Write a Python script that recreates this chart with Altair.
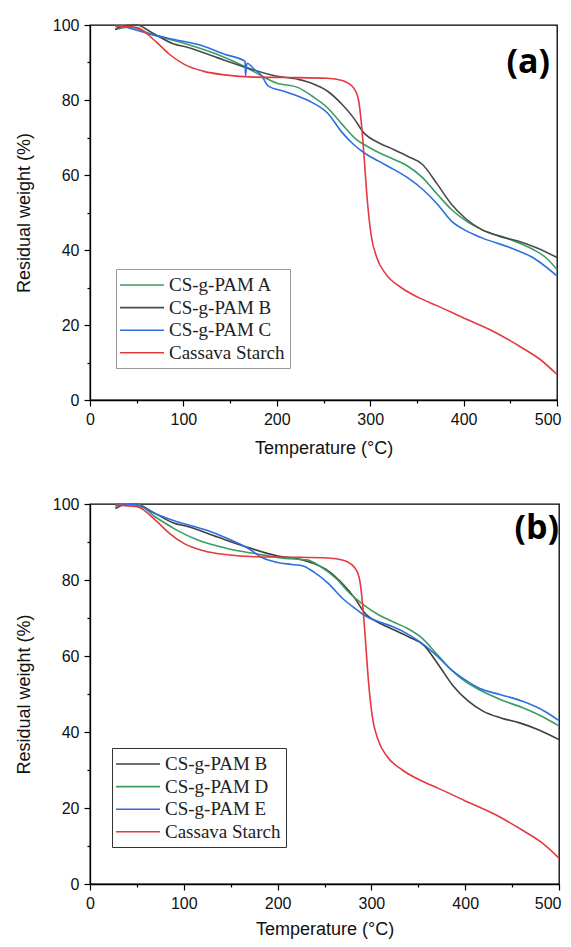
import altair as alt
import pandas as pd

# ---------------- data ----------------
# Cassava Starch (same in both panels)
CS_T = [27, 50, 70, 85, 101, 121, 144, 176, 215, 254, 270, 282, 287, 291, 293, 297, 301, 307, 317, 333, 352, 372, 399, 431, 462, 482, 500]
CS_W = [99.7, 99.3, 95.7, 92.2, 89.5, 87.7, 86.7, 86.1, 86.0, 85.8, 85.2, 83.3, 80.6, 72.6, 66.4, 53.0, 44.0, 38.0, 33.5, 30.0, 27.3, 25.1, 22.0, 18.4, 14.0, 10.8, 6.8]

# CS-g-PAM B (same in both panels)
B_T = [27, 35, 50, 66, 89, 105, 136, 168, 199, 223, 238, 254, 270, 282, 293, 309, 325, 340, 356, 372, 387, 403, 419, 438, 458, 478, 500]
B_W = [98.8, 99.7, 100.0, 98.0, 95.0, 94.0, 91.3, 88.6, 86.4, 85.5, 84.4, 82.4, 78.8, 75.3, 71.3, 68.6, 66.8, 65.0, 62.8, 57.5, 52.2, 48.2, 45.5, 43.7, 42.4, 40.6, 38.0]

# CS-g-PAM A
A_T = [27, 42, 66, 105, 136, 168, 184, 199, 223, 238, 254, 270, 285, 293, 309, 325, 340, 356, 372, 387, 403, 419, 450, 474, 488, 500]
A_W = [98.8, 99.5, 97.5, 94.8, 92.2, 88.6, 86.4, 84.6, 83.3, 81.0, 78.0, 73.5, 69.5, 68.2, 66.0, 64.2, 62.4, 59.3, 54.8, 50.8, 47.7, 45.5, 42.8, 40.2, 38.0, 34.8]

# CS-g-PAM C
C_T = [31, 66, 89, 121, 144, 164, 166, 166.5, 168, 176, 184, 191, 207, 223, 238, 254, 270, 282, 293, 309, 325, 340, 356, 372, 387, 403, 419, 450, 474, 500]
C_W = [100.0, 97.5, 96.2, 94.4, 92.2, 90.6, 90.3, 86.5, 89.8, 88.2, 86.4, 83.7, 82.4, 81.0, 79.3, 76.6, 71.3, 68.2, 66.0, 63.7, 61.5, 59.3, 56.2, 52.2, 47.7, 45.1, 43.3, 40.6, 38.0, 33.1]

# CS-g-PAM D
D_T = [27, 50, 69, 92, 115, 146, 177, 208, 231, 246, 262, 277, 292, 308, 323, 338, 354, 369, 385, 400, 415, 438, 462, 485, 500]
D_W = [99.5, 100.0, 96.7, 93.2, 90.5, 88.3, 86.9, 85.7, 85.3, 83.5, 80.5, 76.5, 73.4, 70.8, 69.0, 67.3, 64.7, 60.7, 56.4, 53.3, 51.1, 48.5, 46.3, 43.7, 41.6]

# CS-g-PAM E
E_T = [27, 50, 69, 92, 123, 146, 169, 185, 200, 215, 227, 238, 254, 269, 285, 292, 308, 323, 338, 354, 369, 385, 400, 415, 438, 462, 485, 500]
E_W = [100.0, 99.7, 97.5, 95.4, 93.2, 91.0, 88.3, 85.7, 84.6, 84.1, 83.7, 82.2, 79.1, 75.2, 72.1, 70.8, 69.0, 67.7, 65.9, 63.3, 60.2, 56.4, 53.7, 51.5, 49.8, 48.0, 45.4, 43.0]

NAMES_A = ["CS-g-PAM A", "CS-g-PAM B", "CS-g-PAM C", "Cassava Starch"]
COLORS_A = ["#3c9c62", "#4a4a4a", "#2b6fe0", "#e4393e"]
NAMES_B = ["CS-g-PAM B", "CS-g-PAM D", "CS-g-PAM E", "Cassava Starch"]
COLORS_B = ["#3f3f3f", "#3c9c62", "#2b6fe0", "#e4393e"]

X_TICKS = list(range(0, 501, 50))
Y_TICKS = list(range(0, 101, 10))


def frame(series):
    rows = []
    for name, T, W in series:
        for i, (t, w) in enumerate(zip(T, W)):
            rows.append({"series": name, "T": t, "W": w, "i": i})
    return pd.DataFrame(rows)


def panel(df, names, colors, tag, width, height, lx, ly, tag_x, tag_y, tag_size,
          legend_stroke, x_title_pad, last_label_shift):
    x = alt.X(
        "T:Q",
        scale=alt.Scale(domain=[0, 500], nice=False, zero=False),
        title="Temperature (°C)",
        axis=alt.Axis(
            values=X_TICKS,
            labelExpr="datum.value % 100 == 0 ? datum.label : ''",
            tickSize={"condition": {"test": "datum.value % 100 == 0", "value": 6}, "value": 3},
            labelAlign={"condition": {"test": "datum.value == 500", "value": "right"}, "value": "center"},
            labelOffset={"condition": {"test": "datum.value == 500", "value": last_label_shift}, "value": 0},
            labelFlush=False,
            labelPadding=5,
            grid=False,
            titlePadding=x_title_pad,
        ),
    )
    y = alt.Y(
        "W:Q",
        scale=alt.Scale(domain=[0, 100], nice=False),
        title="Residual weight (%)",
        axis=alt.Axis(
            values=Y_TICKS,
            labelExpr="datum.value % 20 == 0 ? datum.label : ''",
            tickSize={"condition": {"test": "datum.value % 20 == 0", "value": 6}, "value": 3},
            labelPadding=5,
            grid=False,
            titlePadding=19,
        ),
    )
    lines = alt.Chart(df).mark_line(strokeWidth=1.6, interpolate="monotone").encode(
        x=x,
        y=y,
        order="i:Q",
        color=alt.Color(
            "series:N",
            scale=alt.Scale(domain=names, range=colors),
            legend=alt.Legend(
                title=None,
                orient="none",
                legendX=lx,
                legendY=ly,
                symbolType="M-2.2,0H2.2",
                symbolSize=400,
                symbolStrokeWidth=1.6,
                symbolOffset=10,
                labelOffset=16,
                labelFont="Liberation Serif",
                labelFontSize=19,
                labelColor="#222222",
                labelLimit=400,
                rowPadding=1.6,
                padding=5,
                strokeColor=legend_stroke,
                fillColor="white",
            ),
        ),
    )
    label = alt.Chart(pd.DataFrame({"lbl": [tag]})).mark_text(
        font="Open Sans", fontWeight="bold", fontSize=tag_size, align="right", baseline="middle", color="black"
    ).encode(text="lbl:N", x=alt.value(tag_x), y=alt.value(tag_y))
    return alt.layer(lines, label).properties(width=width, height=height)


df_a = frame([
    ("CS-g-PAM A", A_T, A_W),
    ("CS-g-PAM B", B_T, B_W),
    ("CS-g-PAM C", C_T, C_W),
    ("Cassava Starch", CS_T, CS_W),
])
df_b = frame([
    ("CS-g-PAM B", B_T, B_W),
    ("CS-g-PAM D", D_T, D_W),
    ("CS-g-PAM E", E_T, E_W),
    ("Cassava Starch", CS_T, CS_W),
])

pa = panel(df_a, NAMES_A, COLORS_A, "(a)", 467, 375, 26, 244, 460, 38, 34, "#999999", 12, 4)
pb = panel(df_b, NAMES_B, COLORS_B, "(b)", 469, 380, 22, 244, 469, 25, 34, "#333333", 9, 2)

chart = (
    alt.vconcat(pa, pb, spacing=37)
    .resolve_scale(color="independent")
    .resolve_legend(color="independent")
    .properties(padding={"left": 6, "top": 8, "right": 0, "bottom": 0})
    .configure_view(stroke="black", strokeWidth=1.3)
    .configure_axis(
        labelFont="Liberation Sans",
        labelFontSize=16,
        labelColor="#111111",
        titleFont="Liberation Sans",
        titleFontSize=18,
        titleFontWeight="normal",
        titleColor="#111111",
        domainColor="black",
        domainWidth=1.3,
        tickColor="black",
        tickWidth=1.2,
    )
)

chart.save("out.html", embed_options={"renderer": "svg", "actions": False})
